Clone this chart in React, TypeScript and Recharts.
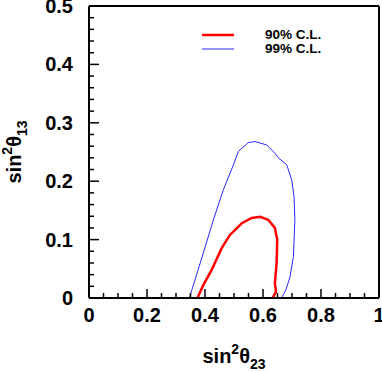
import { Label, Legend, Line, LineChart, ReferenceLine, XAxis, YAxis } from 'recharts';

// 90% C.L. contour (sin^2 theta23, sin^2 theta13), traced around the closed curve
const CL90 = [
  { x: 0.374, y: 0.0 },
  { x: 0.394, y: 0.022 },
  { x: 0.423, y: 0.048 },
  { x: 0.457, y: 0.085 },
  { x: 0.486, y: 0.108 },
  { x: 0.527, y: 0.128 },
  { x: 0.561, y: 0.137 },
  { x: 0.59, y: 0.139 },
  { x: 0.618, y: 0.134 },
  { x: 0.641, y: 0.12 },
  { x: 0.649, y: 0.1 },
  { x: 0.647, y: 0.06 },
  { x: 0.641, y: 0.025 },
  { x: 0.645, y: 0.011 },
  { x: 0.633, y: 0.0 },
];

// 99% C.L. contour
const CL99 = [
  { x: 0.346, y: 0.0 },
  { x: 0.383, y: 0.059 },
  { x: 0.429, y: 0.134 },
  { x: 0.463, y: 0.185 },
  { x: 0.498, y: 0.228 },
  { x: 0.515, y: 0.251 },
  { x: 0.549, y: 0.266 },
  { x: 0.572, y: 0.268 },
  { x: 0.613, y: 0.262 },
  { x: 0.641, y: 0.248 },
  { x: 0.653, y: 0.24 },
  { x: 0.682, y: 0.228 },
  { x: 0.699, y: 0.202 },
  { x: 0.707, y: 0.174 },
  { x: 0.71, y: 0.134 },
  { x: 0.705, y: 0.071 },
  { x: 0.693, y: 0.036 },
  { x: 0.679, y: 0.014 },
  { x: 0.664, y: 0.0 },
];

const X_TICKS = [
  0, 0.05, 0.1, 0.15, 0.2, 0.25, 0.3, 0.35, 0.4, 0.45, 0.5, 0.55, 0.6, 0.65, 0.7, 0.75, 0.8,
  0.85, 0.9, 0.95, 1,
];
const X_LABELS = [0, 0.2, 0.4, 0.6, 0.8, 1];
const Y_TICKS = [
  0, 0.02, 0.04, 0.06, 0.08, 0.1, 0.12, 0.14, 0.16, 0.18, 0.2, 0.22, 0.24, 0.26, 0.28, 0.3,
  0.32, 0.34, 0.36, 0.38, 0.4, 0.42, 0.44, 0.46, 0.48, 0.5,
];
const Y_LABELS = [0, 0.1, 0.2, 0.3, 0.4, 0.5];

const FONT = '"Liberation Sans", Arial, Helvetica, sans-serif';

const isMajor = (list: number[], v: number) => list.some((m) => Math.abs(m - v) < 1e-9);

function XTick({ x, y, payload }: any) {
  const major = isMajor(X_LABELS, payload.value);
  return (
    <g>
      <line x1={x} x2={x} y1={y} y2={y - (major ? 9 : 5)} stroke="#000" strokeWidth={1.5} />
      {major && (
        <text x={x} y={y + 24} textAnchor="middle" fontSize={20} fontWeight="bold" fontFamily={FONT} fill="#000">
          {String(payload.value)}
        </text>
      )}
    </g>
  );
}

function YTick({ x, y, payload }: any) {
  const major = isMajor(Y_LABELS, payload.value);
  return (
    <g>
      <line x1={x} x2={x + (major ? 10 : 5)} y1={y} y2={y} stroke="#000" strokeWidth={1.5} />
      {major && (
        <text x={x - 16} y={y + 7} textAnchor="end" fontSize={20} fontWeight="bold" fontFamily={FONT} fill="#000">
          {String(payload.value)}
        </text>
      )}
    </g>
  );
}

function XTitle({ viewBox }: any) {
  const cx = viewBox.x + viewBox.width / 2;
  const by = viewBox.y + 65;
  return (
    <text x={cx} y={by} textAnchor="middle" fontSize={20} fontWeight="bold" fontFamily={FONT} fill="#000">
      sin
      <tspan dy={-9} fontSize={14}>2</tspan>
      <tspan dy={9}>θ</tspan>
      <tspan dy={6} fontSize={14}>23</tspan>
    </text>
  );
}

function YTitle({ viewBox }: any) {
  const cy = viewBox.y + viewBox.height / 2;
  const bx = 21;
  return (
    <text
      x={bx}
      y={cy}
      transform={`rotate(-90 ${bx} ${cy})`}
      textAnchor="middle"
      fontSize={20}
      fontWeight="bold"
      fontFamily={FONT}
      fill="#000"
    >
      sin
      <tspan dy={-9} fontSize={14}>2</tspan>
      <tspan dy={9}>θ</tspan>
      <tspan dy={6} fontSize={14}>13</tspan>
    </text>
  );
}

function LegendBox({ payload }: any) {
  const items = payload || [];
  return (
    <div style={{ position: 'relative', height: 0 }}>
      <svg width={382} height={70} style={{ position: 'absolute', left: 0, top: 0, overflow: 'visible' }}>
        {items.map((item: any, i: number) => {
          const y = 35 + i * 14;
          return (
            <g key={item.value}>
              <line x1={202} x2={234} y1={y} y2={y} stroke={item.color} strokeWidth={i === 0 ? 2.5 : 1} />
              <text x={265} y={y + 4} fontSize={13.5} fontWeight="bold" fontFamily={FONT} fill="#000">
                {item.value}
              </text>
            </g>
          );
        })}
      </svg>
    </div>
  );
}

export default function App() {
  return (
    <div style={{ position: 'absolute', left: 0, top: 0, background: '#fff' }}>
      <LineChart width={382} height={372} margin={{ top: 6, right: 3, left: 0, bottom: 0 }}>
        <XAxis
          dataKey="x"
          type="number"
          domain={[0, 1]}
          ticks={X_TICKS}
          interval={0}
          height={74}
          tickSize={0}
          tickMargin={0}
          tickLine={false}
          tick={<XTick />}
          axisLine={{ stroke: '#000', strokeWidth: 2 }}
          allowDataOverflow
        >
          <Label content={<XTitle />} />
        </XAxis>
        <YAxis
          dataKey="y"
          type="number"
          domain={[0, 0.5]}
          ticks={Y_TICKS}
          interval={0}
          width={89}
          tickSize={0}
          tickMargin={0}
          tickLine={false}
          tick={<YTick />}
          axisLine={{ stroke: '#000', strokeWidth: 2 }}
          allowDataOverflow
        >
          <Label content={<YTitle />} />
        </YAxis>
        <ReferenceLine y={0.5} stroke="#000" strokeWidth={2} />
        <ReferenceLine x={1} stroke="#000" strokeWidth={2} />
        <Legend
          verticalAlign="top"
          content={<LegendBox />}
          wrapperStyle={{ position: 'absolute', left: 0, top: 0, width: 382, height: 0 }}
        />
        <Line
          data={CL90}
          dataKey="y"
          name="90% C.L."
          type="linear"
          stroke="#ff0000"
          strokeWidth={2.5}
          dot={false}
          isAnimationActive={false}
        />
        <Line
          data={CL99}
          dataKey="y"
          name="99% C.L."
          type="linear"
          stroke="#2828ff"
          strokeWidth={1}
          dot={false}
          isAnimationActive={false}
        />
      </LineChart>
    </div>
  );
}
